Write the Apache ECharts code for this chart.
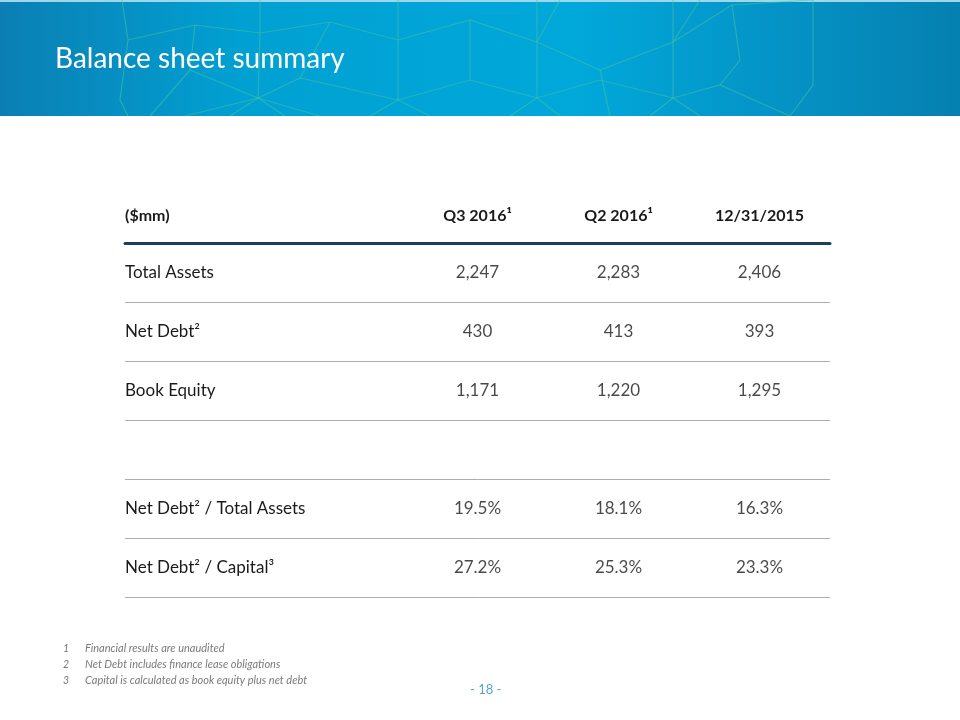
<!DOCTYPE html>
<html>
<head>
<meta charset="utf-8">
<script src="https://cdn.jsdelivr.net/npm/echarts@6/dist/echarts.min.js"></script>
<style>
  html, body { margin: 0; padding: 0; background: #fff; }
  #main { width: 960px; height: 720px; }
</style>
</head>
<body>
<div id="main"></div>
<script>
// columns: two blank slots hold the row-label area, then the three periods
const columns = ["", "", "Q3 2016¹", "Q2 2016¹", "12/31/2015"];
const rows = ["Total Assets", "Net Debt²", "Book Equity", "", "Net Debt² / Total Assets", "Net Debt² / Capital³"];
const q3_2016 = ["2,247", "430", "1,171", "", "19.5%", "27.2%"];
const q2_2016 = ["2,283", "413", "1,220", "", "18.1%", "25.3%"];
const ye_2015 = ["2,406", "393", "1,295", "", "16.3%", "23.3%"];
const footnotes = [
  "Financial results are unaudited",
  "Net Debt includes finance lease obligations",
  "Capital is calculated as book equity plus net debt"
];

const FONT = "Lato, 'Open Sans', sans-serif";

// build cells: [column index, row index, text]
let cells = [];
[q3_2016, q2_2016, ye_2015].forEach((col, ci) => {
  col.forEach((v, ri) => {
    if (v !== "") cells.push([ci + 2, ri, v]);
  });
});

// decorative network lines in the banner
const net = [
  [[122, 0], [128, 40], [120, 100], [128, 116]],
  [[128, 40], [195, 25], [260, 33], [330, 22], [398, 40]],
  [[150, 116], [190, 70], [258, 98], [300, 78], [398, 100], [470, 80], [537, 98], [600, 80], [673, 98], [720, 85], [790, 116]],
  [[260, 0], [260, 33], [258, 98]],
  [[258, 98], [185, 116]], [[258, 98], [230, 116]], [[258, 98], [285, 116]], [[258, 98], [320, 116]],
  [[398, 0], [398, 40], [398, 100], [370, 116]], [[398, 100], [430, 116]],
  [[398, 40], [470, 20], [537, 42], [560, 0]],
  [[470, 20], [470, 80]],
  [[537, 0], [537, 42], [537, 98], [510, 116]], [[537, 98], [560, 116]],
  [[537, 42], [600, 70], [673, 42], [700, 0]],
  [[600, 70], [610, 116]],
  [[673, 0], [673, 42], [673, 98], [650, 116]], [[673, 98], [700, 116]],
  [[673, 42], [732, 5], [740, 60], [720, 85]],
  [[813, 0], [813, 85], [790, 116]],
  [[732, 5], [813, 0]],
  [[330, 22], [300, 78]],
  [[195, 25], [190, 70]]
];

let bannerGraphics = [
  {
    type: "rect", left: 0, top: 0, z: 0,
    shape: { width: 960, height: 116 },
    style: {
      fill: new echarts.graphic.LinearGradient(0, 0, 1, 0, [
        { offset: 0, color: "#0b7fb4" },
        { offset: 0.25, color: "#01a0d2" },
        { offset: 0.6, color: "#01a8da" },
        { offset: 0.82, color: "#0592c5" },
        { offset: 1, color: "#0580b0" }
      ])
    }
  },
  { type: "rect", left: 0, top: 0, z: 1, shape: { width: 960, height: 2 }, style: { fill: "#9ed7ea" } }
];
net.forEach(pts => {
  bannerGraphics.push({
    type: "polyline", z: 1,
    shape: { points: pts },
    style: { stroke: "rgba(70,200,160,0.5)", lineWidth: 1.2, fill: null }
  });
});
bannerGraphics.push({
  type: "text", left: 55, top: 45, z: 2,
  style: { text: "Balance sheet summary", fill: "#ffffff", font: "28px " + FONT }
});
footnotes.forEach((t, i) => {
  bannerGraphics.push({
    type: "text", left: 63, top: 643 + i * 16,
    style: { text: String(i + 1), fill: "#7a7a7a", font: "italic 10.5px " + FONT }
  });
  bannerGraphics.push({
    type: "text", left: 85, top: 643 + i * 16,
    style: { text: t, fill: "#7a7a7a", font: "italic 11px " + FONT }
  });
});
bannerGraphics.push({
  type: "text", left: 470, top: 683,
  style: { text: "- 18 -", fill: "#5ba3d0", font: "13px " + FONT }
});

let chart = echarts.init(document.getElementById("main"));
chart.setOption({
  backgroundColor: "#ffffff",
  animation: false,
  graphic: bannerGraphics,
  grid: { left: 125, right: 130, top: 243, height: 354 },
  xAxis: {
    type: "category",
    position: "top",
    data: columns,
    axisLine: { show: true, lineStyle: { color: "#1d3f5e", width: 3 } },
    axisTick: { show: false },
    axisLabel: { color: "#1a1a1a", fontWeight: "bold", fontSize: 16, fontFamily: FONT, margin: 19, interval: 0 },
    splitLine: { show: false }
  },
  yAxis: {
    type: "category",
    inverse: true,
    data: rows,
    name: "($mm)",
    nameLocation: "start",
    nameGap: 27,
    nameTextStyle: { color: "#1a1a1a", fontWeight: "bold", fontSize: 16, fontFamily: FONT, align: "left", verticalAlign: "middle" },
    axisLine: { show: false },
    axisTick: { show: false },
    axisLabel: { inside: true, align: "left", margin: 0, color: "#1a1a1a", fontSize: 17, fontFamily: FONT, interval: 0 },
    splitLine: { show: true, lineStyle: { color: "#adadad", width: 1 } }
  },
  series: [{
    type: "scatter",
    symbolSize: 0,
    data: cells,
    label: {
      show: true,
      position: "inside",
      formatter: p => p.data[2],
      color: "#1a1a1a",
      fontSize: 17,
      fontFamily: FONT
    }
  }]
});
</script>
</body>
</html>
